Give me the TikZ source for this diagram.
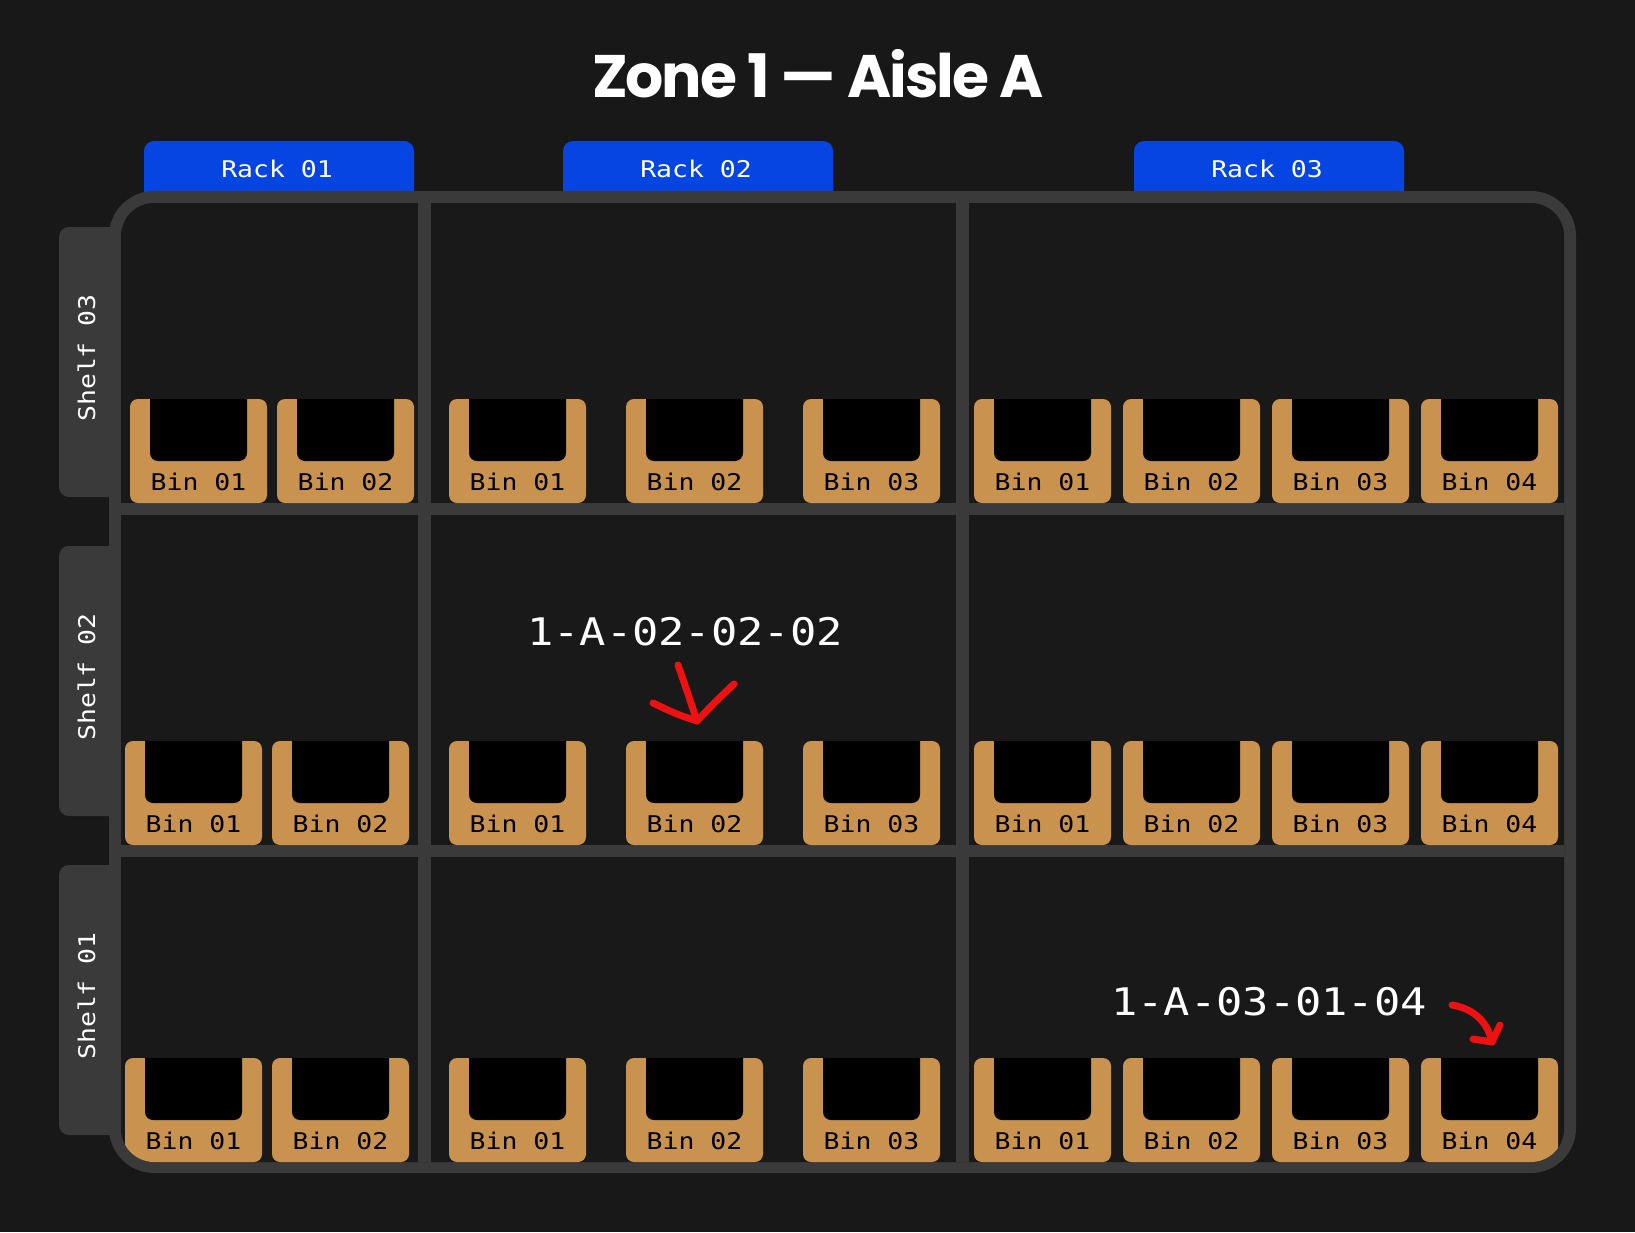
\documentclass[tikz,border=0pt]{standalone}
\usepackage{fontspec}
\setmainfont{Poppins}
\newfontfamily\monofont[FakeStretch=1.15]{DejaVu Sans Mono}
\definecolor{bgcol}{HTML}{181818}
\definecolor{cellcol}{HTML}{191919}
\definecolor{framecol}{HTML}{3A3A3A}
\definecolor{tabblue}{HTML}{0645E2}
\definecolor{binorange}{HTML}{C9934F}
\definecolor{markred}{HTML}{EE1111}
\tikzset{
  binbox/.style={fill=binorange, rounded corners=8pt, minimum width=137pt, minimum height=104pt, inner sep=0pt,
    path picture={\fill[black, rounded corners=8pt] ([xshift=20pt,yshift=10pt]path picture bounding box.north west) rectangle ([xshift=-20pt,yshift=42pt]path picture bounding box.south east);}},
  binlabel/.style={anchor=base, text=black, inner sep=0pt, font=\monofont\fontsize{23}{26}\selectfont},
  racktab/.style={fill=tabblue, rounded corners=10pt, minimum width=270pt, minimum height=70pt, inner sep=0pt},
  shelftab/.style={fill=framecol, rounded corners=10pt, minimum width=70pt, minimum height=270pt, inner sep=0pt},
  tablabel/.style={anchor=base, text=white, inner sep=0pt, font=\monofont\fontsize{23}{26}\selectfont},
  codelabel/.style={anchor=base, text=white, inner sep=0pt, font=\monofont\fontsize{38}{42}\selectfont},
  titlestyle/.style={anchor=base, text=white, inner sep=0pt, font=\fontsize{60}{70}\selectfont\bfseries\addfontfeatures{LetterSpace=-3.5}},
  redarrow/.style={draw=markred, line width=7pt, line cap=round, line join=round}
}
\newcommand\binat[4]{%
  \node[binbox] (#1) at ({#2+68.5},{#3+52}) {};
  \node[binlabel] (#1-t) at ([yshift=13pt]#1.south) {#4};
}
\begin{document}
\begin{tikzpicture}[x=1pt,y=-1pt]
\fill[bgcol] (0,0) rectangle (1635,1232);
\useasboundingbox (0,0) rectangle (1635,1232);

% title
\node[titlestyle] (title) at (818,97) {Zone 1 — Aisle A};

% rack tabs
\node[racktab] (rack1) at (279,176) {};
\node[racktab] (rack2) at (698,176) {};
\node[racktab] (rack3) at (1269,176) {};
\node[tablabel] (rack1-t) at (277,177) {Rack 01};
\node[tablabel] (rack2-t) at (696,177) {Rack 02};
\node[tablabel] (rack3-t) at (1267,177) {Rack 03};

% shelf tabs
\node[shelftab] (shelf3) at (94,362) {};
\node[shelftab] (shelf2) at (94,681) {};
\node[shelftab] (shelf1) at (94,1000) {};
\node[tablabel, rotate=90] (shelf3-t) at (95,358) {Shelf 03};
\node[tablabel, rotate=90] (shelf2-t) at (95,677) {Shelf 02};
\node[tablabel, rotate=90] (shelf1-t) at (95,996) {Shelf 01};

% frame
\fill[framecol, rounded corners=45pt] (109,191) rectangle (1576,1173);
\fill[cellcol, rounded corners=33pt] (121,203) rectangle (1564,1162);
\fill[framecol] (418,203) rectangle (431,1162);
\fill[framecol] (956,203) rectangle (969,1162);
\fill[framecol] (121,503) rectangle (1564,515);
\fill[framecol] (121,845) rectangle (1564,857);

% bins
\begin{scope}
\clip[rounded corners=33pt] (121,203) rectangle (1564,1162);
\foreach \sh/\t/\xa/\xb in {03/399/130/277, 02/741/125/272, 01/1058/125/272}{
  \binat{b-\sh-1-1}{\xa}{\t}{Bin 01}
  \binat{b-\sh-1-2}{\xb}{\t}{Bin 02}
  \foreach \x [count=\i] in {449,626,803}{\binat{b-\sh-2-\i}{\x}{\t}{Bin 0\i}}
  \foreach \x [count=\i] in {974,1123,1272,1421}{\binat{b-\sh-3-\i}{\x}{\t}{Bin 0\i}}
}
\end{scope}

% location codes
\node[codelabel] (code1) at (685,645) {1-A-02-02-02};
\node[codelabel] (code2) at (1269,1015) {1-A-03-01-04};

% red marks
\coordinate (a1s) at (678,665);
\coordinate (a1t) at (697,721);
\coordinate (a1l) at (653,703);
\coordinate (a1r) at (734,684);
\draw[redarrow] (a1s) .. controls (686,688) .. (a1t);
\draw[redarrow] (a1l) .. controls (676,714) .. (a1t) .. controls (714,703) .. (a1r);

\coordinate (a2s) at (1452,1005);
\coordinate (a2t) at (1492,1042);
\coordinate (a2l) at (1473,1039);
\coordinate (a2r) at (1500,1025);
\draw[redarrow] (a2s) .. controls (1476,1009) and (1488,1024) .. (a2t);
\draw[redarrow] (a2l) -- (a2t) -- (a2r);
\end{tikzpicture}
\end{document}
